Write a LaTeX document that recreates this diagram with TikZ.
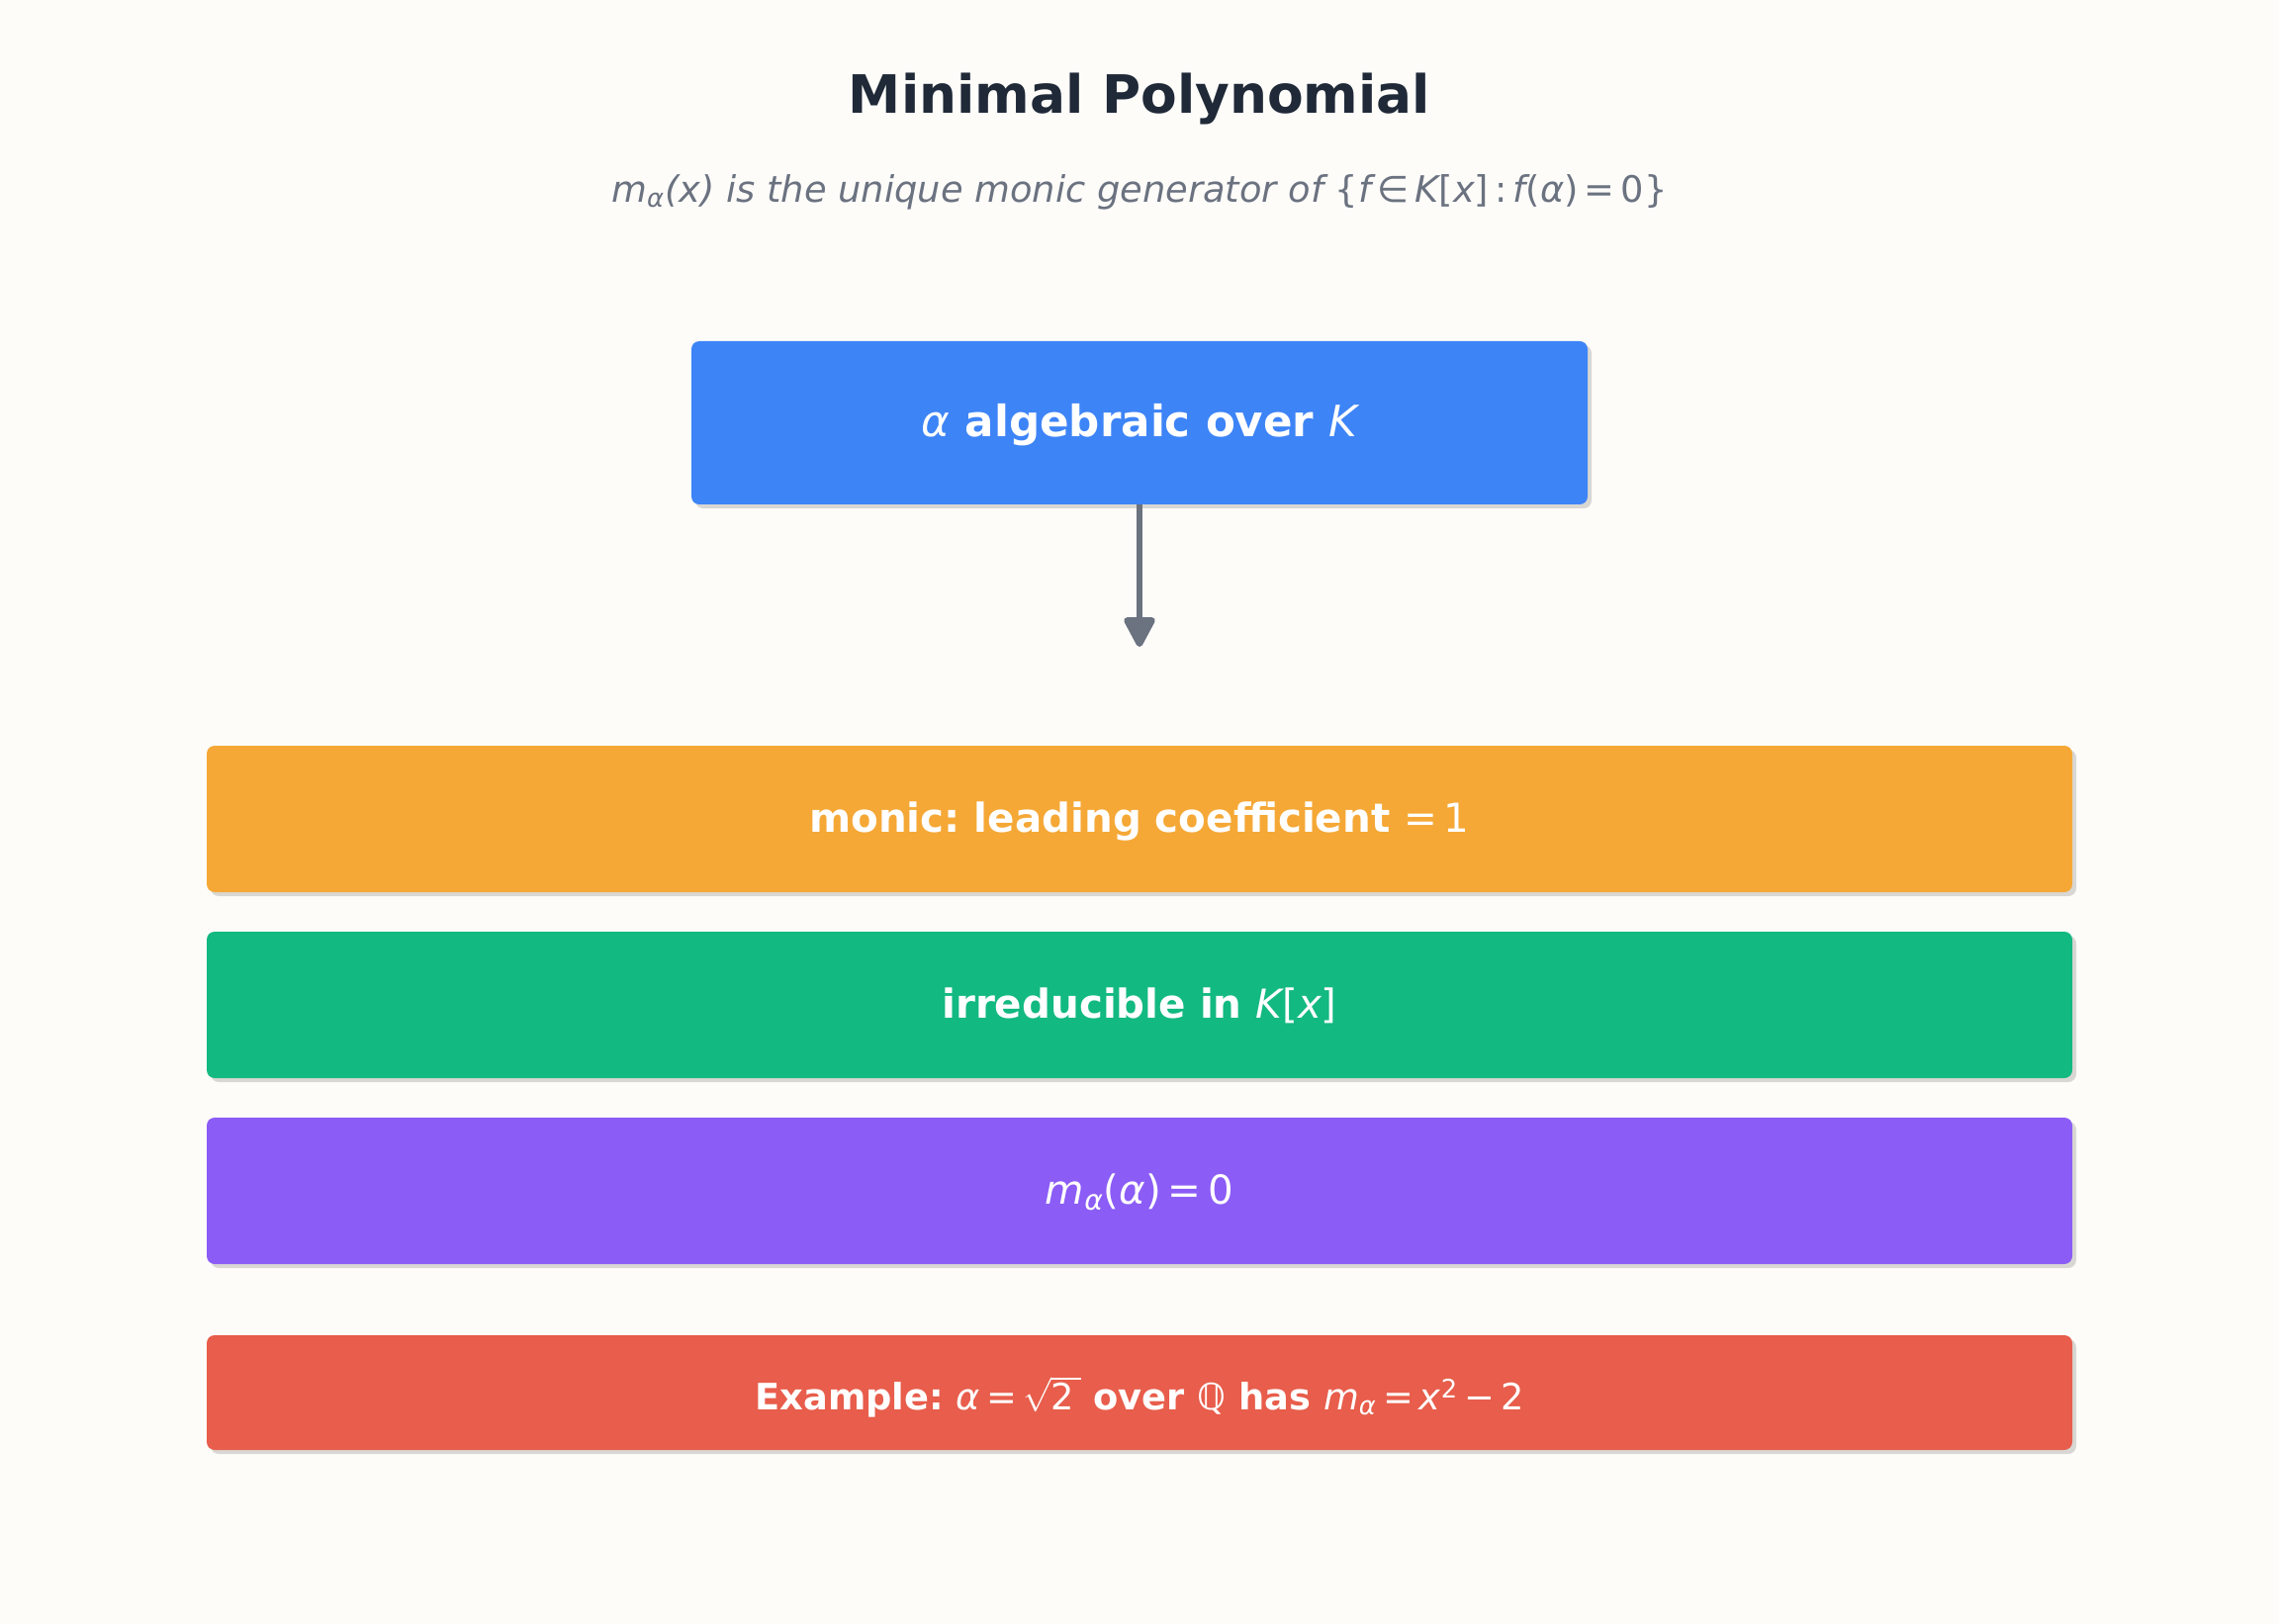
\documentclass[tikz,border=0pt]{standalone}
\usepackage{fontspec}
\setmainfont{DejaVu Sans}
\usetikzlibrary{arrows.meta,shadows}
\definecolor{bg}{HTML}{FDFCF9}
\definecolor{titlec}{HTML}{1F2937}
\definecolor{subc}{HTML}{6B7280}
\definecolor{bluec}{HTML}{3D84F7}
\definecolor{orangec}{HTML}{F5A836}
\definecolor{greenc}{HTML}{12B981}
\definecolor{purplec}{HTML}{8B5CF6}
\definecolor{redc}{HTML}{E85D4B}
\definecolor{shadowc}{HTML}{D9D7D3}
\newcommand\mi[1]{{\mdseries\itshape #1}}
\newcommand\mup[1]{{\mdseries\upshape #1}}
\frenchspacing
\tikzset{
  bx/.style={rounded corners=4pt, text=white, font=\fontsize{20.2}{24}\selectfont\bfseries,
    inner sep=0pt, align=center, text height=16pt, text depth=2.5pt,
    drop shadow={shadow xshift=2pt, shadow yshift=-2pt, fill=shadowc, opacity=1}},
  conn/.style={draw=subc, line width=3.3pt, -{Triangle[round,length=17pt,width=17pt]}}
}
\begin{document}
\frenchspacing
\begin{tikzpicture}[x=0.5pt,y=-0.5pt]
\fill[bg] (0,0) rectangle (2304,1642);
\useasboundingbox (0,0) rectangle (2304,1642);
\node[text=titlec, font=\fontsize{26.7}{30}\selectfont\bfseries] (title) at (1152,100) {Minimal Polynomial};
\node[text=subc, font=\fontsize{18.4}{22}\selectfont\itshape] (sub) at (1152,194)
  {m\textsubscript{α}(x) is the unique monic generator of \mup{\{}f\,\mup{∈}\,K\mup{[}x\mup{]}\,\mup{:}\,f\mup{(}α\mup{)}\,\mup{=}\,\mup{0}\mup{\}}};
\node[bx, fill=bluec, minimum width=453pt, minimum height=82.5pt, font=\fontsize{21.8}{26}\selectfont\bfseries, text height=17pt, text depth=2.6pt] (top) at (1152,427.5)
  {\mi{α} algebraic over \mi{K}};
\coordinate (tip) at (1152,654);
\draw[conn] (top.south) -- (tip);
\node[bx, fill=orangec, minimum width=943pt, minimum height=74pt] (monic) at (1152,828)
  {monic: leading coefficient \mup{=\,1}};
\node[bx, fill=greenc, minimum width=943pt, minimum height=74pt] (irr) at (1152,1016)
  {irreducible in \mi{K}\mup{[}\mi{x}\mup{]}};
\node[bx, fill=purplec, minimum width=943pt, minimum height=74pt] (root) at (1152,1204)
  {\mi{m}\textsubscript{\mi{α}}\mup{(}\mi{α}\mup{)\,=\,0}};
\node[bx, fill=redc, minimum width=943pt, minimum height=58pt, font=\fontsize{18.4}{22}\selectfont\bfseries, text height=18pt, text depth=0.4pt] (ex) at (1152,1408)
  {Example: \mi{α}\,\mup{=}\,\mup{$\sqrt{\mbox{\mdseries 2\,}}$} over \mup{ℚ} has \mi{m}\textsubscript{\mi{α}}\,\mup{=}\,\mi{x}\textsuperscript{\mup{2}}\,\mup{−\,2}};
\end{tikzpicture}
\end{document}
